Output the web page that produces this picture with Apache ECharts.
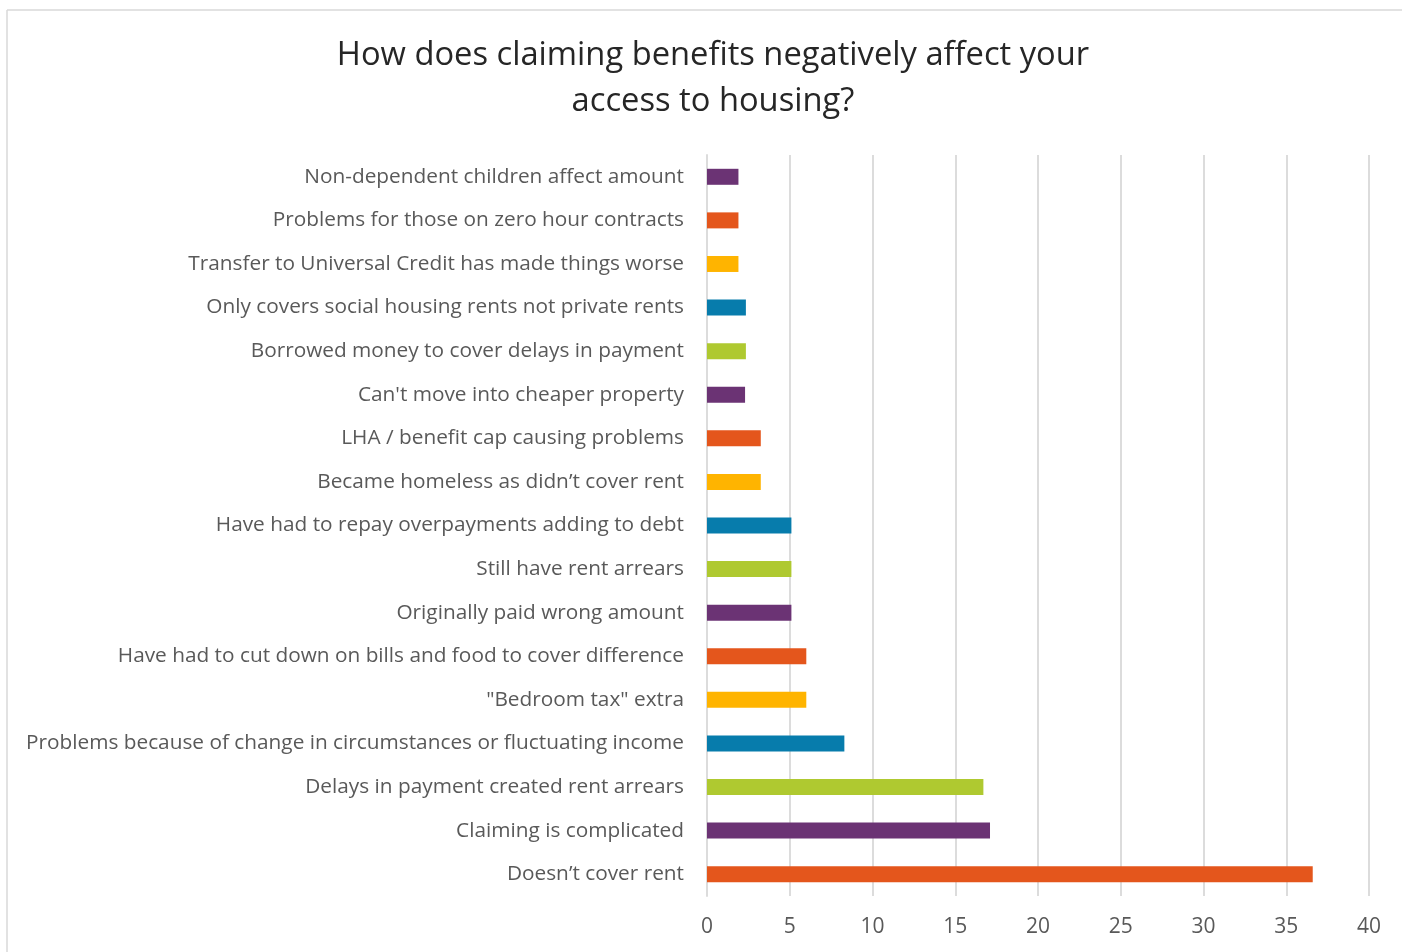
<!DOCTYPE html>
<html>
<head>
<meta charset="utf-8">
<script src="https://cdn.jsdelivr.net/npm/echarts@6/dist/echarts.min.js"></script>
<style>
  html, body { margin: 0; padding: 0; background: #fff; }
  #chart { width: 1402px; height: 952px; }
</style>
</head>
<body>
<div id="chart"></div>
<script>
// Survey answers, listed bottom to top as the category axis draws them
const categories = [
  "Doesn\u2019t cover rent",
  "Claiming is complicated",
  "Delays in payment created rent arrears",
  "Problems because of change in circumstances or fluctuating income",
  "\"Bedroom tax\" extra",
  "Have had to cut down on bills and food to cover difference",
  "Originally paid wrong amount",
  "Still have rent arrears",
  "Have had to repay overpayments adding to debt",
  "Became homeless as didn\u2019t cover rent",
  "LHA / benefit cap causing problems",
  "Can't move into cheaper property",
  "Borrowed money to cover delays in payment",
  "Only covers social housing rents not private rents",
  "Transfer to Universal Credit has made things worse",
  "Problems for those on zero hour contracts",
  "Non-dependent children affect amount"
];
const values = [36.6, 17.1, 16.7, 8.3, 6.0, 6.0, 5.1, 5.1, 5.1, 3.25, 3.25, 2.3, 2.35, 2.35, 1.9, 1.9, 1.9];
const palette = ["#E4561C", "#6B3374", "#AFC930", "#077CAC", "#FFB400"];
const xTicks = [0, 5, 10, 15, 20, 25, 30, 35, 40];

const chart = echarts.init(document.getElementById('chart'));
chart.setOption({
  animation: false,
  backgroundColor: '#ffffff',
  textStyle: { fontFamily: 'Open Sans' },
  graphic: [
    { type: 'line', shape: { x1: 7, y1: 10, x2: 1402, y2: 10 }, style: { stroke: '#d9d9d9', lineWidth: 1.5 } },
    { type: 'line', shape: { x1: 7, y1: 10, x2: 7, y2: 952 }, style: { stroke: '#d9d9d9', lineWidth: 1.5 } }
  ],
  title: {
    text: 'How does claiming benefits negatively affect your\naccess to housing?',
    left: 708,
    textAlign: 'center',
    top: 28,
    textStyle: {
      fontFamily: 'Open Sans',
      fontWeight: 'normal',
      fontSize: 32.7,
      lineHeight: 46,
      color: '#262626'
    }
  },
  grid: { left: 707, right: 33, top: 155, bottom: 56, containLabel: false },
  xAxis: {
    type: 'value',
    min: xTicks[0],
    max: xTicks[xTicks.length - 1],
    interval: 5,
    axisLine: { show: false },
    axisTick: { show: false },
    splitLine: { lineStyle: { color: '#dcdcdc', width: 2 } },
    axisLabel: { color: '#595959', fontSize: 21, margin: 21 }
  },
  yAxis: {
    type: 'category',
    data: categories,
    axisLine: { show: true, lineStyle: { color: '#dcdcdc', width: 2 } },
    axisTick: { show: false },
    axisLabel: { color: '#595959', fontSize: 20.8, margin: 23 }
  },
  series: [{
    type: 'bar',
    data: values.map((v, i) => ({ value: v, itemStyle: { color: palette[i % palette.length] } })),
    barWidth: 16
  }]
});
</script>
</body>
</html>
